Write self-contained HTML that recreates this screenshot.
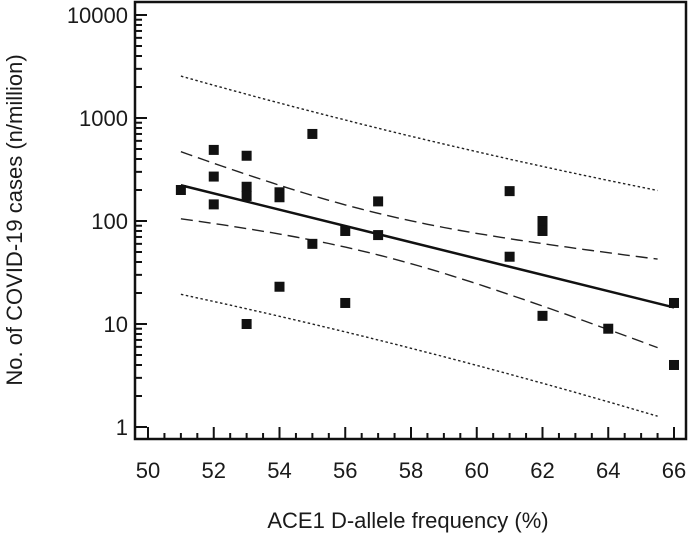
<!DOCTYPE html>
<html><head><meta charset="utf-8"><style>
html,body{margin:0;padding:0;background:#fff;}
svg{display:block;font-family:"Liberation Sans",Arial,sans-serif;}
</style></head><body>
<svg id="chart" width="689" height="533" viewBox="0 0 689 533" xmlns="http://www.w3.org/2000/svg">
<g id="plot"></g>
<text x="408" y="528" font-size="22" text-anchor="middle" fill="#1a1a1a">ACE1 D-allele frequency (%)</text>
<text transform="translate(22,220) rotate(-90)" font-size="22" text-anchor="middle" fill="#1a1a1a">No. of COVID-19 cases (n/million)</text>
</svg>
<script>
const xVals = [51,52,52,52,53,53,53,53,54,54,54,55,55,56,56,57,57,61,61,62,62,62,64,66,66];
const yVals = [200,490,270,145,430,215,175,10,190,170,23,700,60,80,16,155,73,195,45,100,80,12,9,16,4];
const xTicks = [50,52,54,56,58,60,62,64,66];
const yTicks = [1,10,100,1000,10000];
const yTickLabels = ["1","10","100","1000","10000"];

const L=135,R=686,T=2,B=439;
const X0=148,X1=674;
function sx(v){return X0+(v-50)*(X1-X0)/16;}
function sy(v){return 427-Math.log10(v)*103;}
const NS="http://www.w3.org/2000/svg";
const g=document.getElementById('plot');
function mk(tag,attrs){const e=document.createElementNS(NS,tag);for(const k in attrs)e.setAttribute(k,attrs[k]);g.appendChild(e);return e;}

let frame=mk('rect',{x:L,y:T,width:R-L,height:B-T,fill:'none',stroke:'#111','stroke-width':2.5});



for(let d=0;d<=4;d++){
  for(let m=1;m<=9;m++){
    const v=Math.pow(10,d)*m; if(v>13000)break;
    const y=sy(v);
    const t=mk('line',{x1:L,x2:L+(m===1?12:7),y1:y,y2:y,stroke:'#111','stroke-width':2});
    
    
  }
}
yTicks.forEach((v,i)=>{
  const t=mk('text',{x:128,y:sy(v)+8,'font-size':22,'text-anchor':'end',fill:'#1a1a1a'});
  t.textContent=yTickLabels[i];
  
  
});
for(let v=50;v<=66.01;v+=0.5){
  const major=Math.abs(v%2)<0.01;
  const x=sx(v);
  const t=mk('line',{x1:x,x2:x,y1:B,y2:B-(major?12:6),stroke:'#111','stroke-width':2});
  
  
}
xTicks.forEach(v=>{
  const t=mk('text',{x:sx(v),y:478,'font-size':22,'text-anchor':'middle',fill:'#1a1a1a'});
  t.textContent=String(v);
  
  
});

const n=xVals.length;
const ly=yVals.map(v=>Math.log10(v));
const mx=xVals.reduce((a,b)=>a+b,0)/n, my=ly.reduce((a,b)=>a+b,0)/n;
let sxx=0,sxy=0;for(let i=0;i<n;i++){sxx+=(xVals[i]-mx)**2;sxy+=(xVals[i]-mx)*(ly[i]-my);}
const b=sxy/sxx,a=my-b*mx;
let sse=0;for(let i=0;i<n;i++)sse+=(ly[i]-a-b*xVals[i])**2;
const s=Math.sqrt(sse/(n-2)),tq=2.07;
function band(sign,pred){
  const pts=[];for(let x=51;x<=65.5001;x+=0.25){
    const se=s*Math.sqrt((pred?1:0)+1/n+(x-mx)**2/sxx);
    const v=a+b*x+sign*tq*se;pts.push(sx(x).toFixed(1)+','+(427-v*103).toFixed(1));}
  return pts.join(' ');
}
[[1,false,'ci-upper','12,6'],[-1,false,'ci-lower','12,6'],[1,true,'pi-upper','2.5,2.5'],[-1,true,'pi-lower','2.5,2.5']].forEach(c=>{
  const p=mk('polyline',{points:band(c[0],c[1]),fill:'none',stroke:'#222','stroke-width':1.4,'stroke-dasharray':c[3]});
  
  
});
const rl=mk('line',{x1:sx(51),y1:427-(a+b*51)*103,x2:sx(66),y2:427-(a+b*66)*103,stroke:'#111','stroke-width':2.5});



for(let i=0;i<n;i++){
  const r=mk('rect',{x:sx(xVals[i])-5,y:sy(yVals[i])-5,width:10,height:10,fill:'#111'});
  
  
}
</script>
</body></html>
